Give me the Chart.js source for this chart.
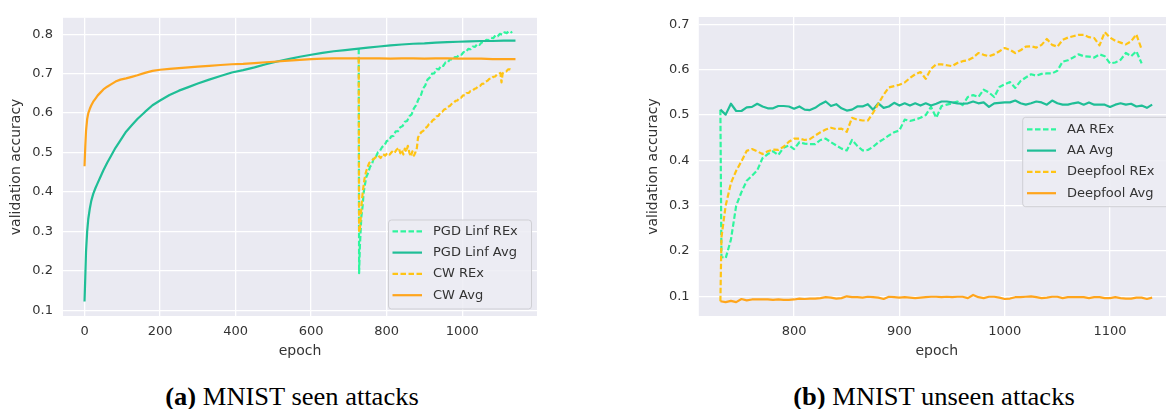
<!DOCTYPE html>
<html>
<head>
<meta charset="utf-8">
<script src="https://cdn.jsdelivr.net/npm/chart.js@4.4.1/dist/chart.umd.min.js"></script>
<style>
  html, body { margin:0; padding:0; width:1166px; height:409px; overflow:hidden; background:#fff; }
  canvas { position:absolute; top:0; }
  #cL { left:0; }
  #cR { left:620px; }
  .cap { position:absolute; top:384px; font-family:"Liberation Serif","Times New Roman",serif; font-size:25px; line-height:25px; color:#000; white-space:nowrap; transform:translateX(-50%) scaleX(1.06); }
</style>
</head>
<body>
<canvas id="cL" width="560" height="372"></canvas>
<canvas id="cR" width="560" height="372"></canvas>
<div class="cap" style="left:292px"><b>(a)</b> MNIST seen attacks</div>
<div class="cap" style="left:934px"><b>(b)</b> MNIST unseen attacks</div>
<script>
// ---------- Left chart data (MNIST seen attacks) ----------
const leftAvgEpochs = [0,2,4,7,10,14,18,23,29,35,42,50,60,70,82,95,110,125,140,160,180,200,225,250,275,300,330,360,390,420,450,480,510,540,570,600,630,660,690,720,750,780,810,840,870,900,930,960,990,1020,1050,1080,1110,1141];
const pgdAvg = [0.122,0.184,0.249,0.300,0.332,0.358,0.378,0.395,0.410,0.423,0.438,0.455,0.474,0.491,0.512,0.531,0.553,0.569,0.585,0.603,0.620,0.632,0.646,0.657,0.666,0.675,0.685,0.694,0.703,0.709,0.716,0.724,0.731,0.737,0.743,0.748,0.753,0.757,0.760,0.763,0.766,0.769,0.772,0.774,0.776,0.777,0.779,0.780,0.781,0.782,0.783,0.783,0.784,0.784];
const cwAvg = [0.465,0.515,0.555,0.585,0.600,0.611,0.620,0.629,0.637,0.645,0.652,0.660,0.667,0.673,0.680,0.685,0.688,0.692,0.696,0.702,0.707,0.710,0.712,0.714,0.716,0.718,0.720,0.722,0.724,0.725,0.727,0.729,0.731,0.733,0.735,0.737,0.738,0.739,0.739,0.739,0.739,0.739,0.738,0.739,0.739,0.738,0.739,0.739,0.738,0.738,0.738,0.737,0.737,0.737];
const pgdRexEpochs = [726,727,729,731,733,736,739,742,746,751,756,761,766,771,777,782,788,794,800,806,812,818,824,830,836,842,848,854,860,866,872,878,884,890,896,902,908,914,920,926,932,938,944,950,956,962,968,974,980,986,992,998,1004,1010,1016,1022,1028,1034,1040,1046,1052,1058,1064,1070,1076,1082,1088,1094,1100,1106,1112,1118,1124,1130,1132];
const pgdRex = [0.763,0.194,0.262,0.300,0.338,0.362,0.398,0.416,0.438,0.449,0.464,0.470,0.487,0.488,0.501,0.504,0.514,0.518,0.529,0.531,0.541,0.542,0.554,0.554,0.564,0.567,0.578,0.580,0.592,0.597,0.612,0.620,0.635,0.643,0.662,0.670,0.685,0.690,0.700,0.701,0.712,0.711,0.720,0.720,0.729,0.729,0.737,0.736,0.742,0.742,0.748,0.748,0.755,0.755,0.763,0.762,0.769,0.768,0.775,0.773,0.780,0.779,0.786,0.785,0.791,0.790,0.797,0.795,0.801,0.799,0.805,0.803,0.808,0.805,0.807];
const cwRexEpochs = [726,727,729,731,733,735,738,741,745,749,754,760,766,772,778,784,790,796,802,808,814,820,826,832,836,840,844,848,852,856,860,864,868,872,876,880,883,887,892,897,902,907,912,917,922,927,932,937,942,947,952,957,962,967,972,977,982,987,992,997,1002,1007,1012,1017,1022,1027,1032,1037,1042,1047,1052,1057,1062,1067,1072,1077,1082,1087,1092,1097,1101,1104,1107,1112,1117,1122,1127,1132];
const cwRex = [0.739,0.298,0.305,0.330,0.360,0.385,0.410,0.432,0.450,0.462,0.474,0.480,0.484,0.489,0.492,0.486,0.496,0.492,0.499,0.495,0.502,0.498,0.507,0.512,0.498,0.506,0.495,0.510,0.502,0.517,0.500,0.490,0.503,0.492,0.500,0.512,0.538,0.546,0.552,0.555,0.562,0.565,0.572,0.575,0.582,0.585,0.592,0.593,0.601,0.603,0.609,0.611,0.616,0.618,0.623,0.625,0.631,0.632,0.638,0.639,0.645,0.645,0.651,0.651,0.656,0.657,0.661,0.663,0.668,0.669,0.674,0.675,0.680,0.682,0.687,0.687,0.692,0.693,0.698,0.699,0.702,0.678,0.701,0.705,0.706,0.711,0.711,0.708];
const leftXTicks = [0,200,400,600,800,1000];
const leftYTicks = [0.1,0.2,0.3,0.4,0.5,0.6,0.7,0.8];
const leftLabels = ['PGD Linf REx','PGD Linf Avg','CW REx','CW Avg'];

// ---------- Right chart data (MNIST unseen attacks) ----------
const rightAvgEpochs = [730,735,740,745,750,755,760,765,770,775,780,785,790,795,800,805,810,815,820,825,830,835,840,845,850,855,860,865,870,875,880,885,890,895,900,905,910,915,920,925,930,935,940,945,950,955,960,965,970,975,980,985,990,995,1000,1005,1010,1015,1020,1025,1030,1035,1040,1045,1050,1055,1060,1065,1070,1075,1080,1085,1090,1095,1100,1105,1110,1115,1120,1125,1130,1135,1140];
const aaAvg = [0.512,0.501,0.525,0.509,0.509,0.517,0.518,0.525,0.519,0.515,0.515,0.520,0.520,0.519,0.514,0.519,0.512,0.511,0.516,0.524,0.530,0.520,0.524,0.515,0.510,0.512,0.519,0.519,0.524,0.512,0.526,0.516,0.519,0.527,0.521,0.526,0.521,0.526,0.521,0.526,0.521,0.525,0.530,0.530,0.528,0.526,0.525,0.526,0.530,0.526,0.528,0.518,0.526,0.527,0.528,0.528,0.532,0.526,0.523,0.526,0.530,0.528,0.523,0.532,0.526,0.523,0.523,0.526,0.528,0.523,0.528,0.523,0.523,0.523,0.518,0.523,0.526,0.523,0.525,0.519,0.521,0.516,0.523];
const dfAvg = [0.089,0.087,0.090,0.087,0.094,0.091,0.093,0.093,0.093,0.093,0.092,0.093,0.092,0.092,0.093,0.095,0.094,0.095,0.095,0.096,0.098,0.097,0.095,0.096,0.100,0.098,0.098,0.097,0.099,0.098,0.097,0.094,0.099,0.098,0.097,0.098,0.097,0.096,0.097,0.098,0.099,0.099,0.098,0.099,0.098,0.099,0.099,0.096,0.103,0.098,0.096,0.099,0.099,0.097,0.094,0.095,0.098,0.098,0.099,0.100,0.098,0.096,0.097,0.099,0.099,0.096,0.098,0.098,0.098,0.098,0.096,0.098,0.098,0.096,0.096,0.098,0.096,0.095,0.095,0.097,0.097,0.094,0.097];
const rightRexEpochs = [730,731,735,740,745,750,755,760,765,770,775,780,785,790,795,800,805,810,815,820,825,830,835,840,845,850,855,860,865,870,875,880,885,890,895,900,905,910,915,920,925,930,935,940,945,950,955,960,965,970,975,980,985,990,995,1000,1005,1010,1015,1020,1025,1030,1035,1040,1045,1050,1055,1060,1065,1070,1075,1080,1085,1090,1095,1100,1105,1110,1115,1120,1125,1130];
const aaRex = [0.512,0.187,0.184,0.225,0.300,0.330,0.355,0.366,0.378,0.405,0.414,0.420,0.412,0.428,0.433,0.425,0.440,0.437,0.436,0.436,0.445,0.448,0.440,0.433,0.426,0.422,0.445,0.432,0.422,0.423,0.430,0.440,0.447,0.455,0.462,0.466,0.490,0.487,0.490,0.494,0.500,0.518,0.494,0.520,0.523,0.526,0.530,0.522,0.540,0.544,0.540,0.556,0.550,0.540,0.562,0.568,0.573,0.560,0.575,0.583,0.590,0.587,0.591,0.592,0.592,0.598,0.618,0.621,0.627,0.634,0.630,0.629,0.627,0.634,0.630,0.614,0.616,0.622,0.637,0.630,0.641,0.614];
const dfRex = [0.089,0.230,0.300,0.350,0.377,0.398,0.421,0.425,0.420,0.414,0.420,0.424,0.423,0.430,0.441,0.448,0.448,0.445,0.447,0.455,0.462,0.468,0.472,0.469,0.470,0.463,0.494,0.490,0.488,0.488,0.505,0.525,0.545,0.561,0.564,0.567,0.572,0.582,0.590,0.595,0.580,0.602,0.612,0.612,0.610,0.608,0.615,0.619,0.621,0.627,0.637,0.633,0.630,0.634,0.641,0.648,0.644,0.637,0.643,0.651,0.652,0.649,0.655,0.668,0.655,0.651,0.666,0.671,0.674,0.677,0.677,0.672,0.670,0.654,0.683,0.671,0.664,0.660,0.656,0.663,0.678,0.645];
const rightXTicks = [800,900,1000,1100];
const rightYTicks = [0.1,0.2,0.3,0.4,0.5,0.6,0.7];
const rightLabels = ['AA REx','AA Avg','Deepfool REx','Deepfool Avg'];

// ---------- styling ----------
const C_REX_G = '#2ff59e', C_AVG_G = '#1fbe96', C_REX_Y = '#ffc414', C_AVG_O = '#ffa51c';
const TXT = '#333333';
Chart.defaults.font.family = "'DejaVu Sans', sans-serif";
Chart.defaults.color = TXT;

const zip = (xs, ys) => xs.map((x, i) => ({x: x, y: ys[i]}));

const bgPlugin = {
  id: 'bgPlugin',
  beforeDraw(chart) {
    const {ctx, chartArea: a} = chart;
    ctx.save();
    ctx.fillStyle = '#ffffff';
    ctx.fillRect(0, 0, chart.width, chart.height);
    ctx.fillStyle = '#eaeaf2';
    ctx.fillRect(a.left, a.top, a.right - a.left, a.bottom - a.top);
    ctx.restore();
  }
};

const boxLegend = {
  id: 'boxLegend',
  afterDatasetsDraw(chart, args, o) {
    const ctx = chart.ctx;
    ctx.save();
    ctx.beginPath();
    ctx.roundRect(o.x, o.y, o.w, o.h, 3);
    ctx.fillStyle = 'rgba(236,236,243,0.85)';
    ctx.fill();
    ctx.strokeStyle = '#cfcfd4';
    ctx.lineWidth = 1;
    ctx.stroke();
    chart.data.datasets.forEach((ds, i) => {
      const y = o.y0 + i * o.dy;
      ctx.beginPath();
      ctx.setLineDash(ds.borderDash || []);
      ctx.strokeStyle = ds.borderColor;
      ctx.lineWidth = ds.borderWidth;
      ctx.moveTo(o.lx0, y);
      ctx.lineTo(o.lx1, y);
      ctx.stroke();
      ctx.setLineDash([]);
      ctx.fillStyle = TXT;
      ctx.font = "13px 'DejaVu Sans', sans-serif";
      ctx.textBaseline = 'middle';
      ctx.textAlign = 'left';
      ctx.fillText(ds.label, o.tx, y);
    });
    ctx.restore();
  }
};

function makeChart(id, cfg) {
  const ds = [
    {label: cfg.labels[0], data: zip(cfg.rexGE, cfg.rexG), borderColor: C_REX_G, borderWidth: 2.2, borderDash: [5.5, 2.5], order: 4},
    {label: cfg.labels[1], data: zip(cfg.avgE, cfg.avgG), borderColor: C_AVG_G, borderWidth: 2.2, order: 3},
    {label: cfg.labels[2], data: zip(cfg.rexYE, cfg.rexY), borderColor: C_REX_Y, borderWidth: 2.2, borderDash: [5.5, 2.5], order: 2},
    {label: cfg.labels[3], data: zip(cfg.avgE, cfg.avgO), borderColor: C_AVG_O, borderWidth: 2.2, order: 1}
  ];
  ds.forEach(d => { d.pointRadius = 0; d.tension = 0; d.fill = false; d.borderJoinStyle = 'round'; });
  return new Chart(document.getElementById(id), {
    type: 'line',
    data: {datasets: ds},
    plugins: [bgPlugin, boxLegend],
    options: {
      responsive: false,
      animation: false,
      devicePixelRatio: 1,
      layout: {padding: {top: 8, right: cfg.padRight, left: 0, bottom: 0}},
      plugins: {
        legend: {display: false},
        tooltip: {enabled: false},
        boxLegend: cfg.legend
      },
      scales: {
        x: {
          type: 'linear', min: cfg.xMin, max: cfg.xMax,
          afterBuildTicks: s => { s.ticks = cfg.xTicks.map(v => ({value: v})); },
          afterFit: s => { s.height = 56; },
          grid: {color: '#ffffff', lineWidth: 1.3, drawTicks: false},
          border: {display: false},
          ticks: {padding: 8, font: {size: 13}, color: TXT, maxRotation: 0, callback: v => String(v)},
          title: {display: true, text: 'epoch', font: {size: 14}, color: TXT, padding: {top: 0, bottom: 12}}
        },
        y: {
          type: 'linear', min: cfg.yMin, max: cfg.yMax,
          afterBuildTicks: s => { s.ticks = cfg.yTicks.map(v => ({value: v})); },
          afterFit: s => { s.width = cfg.yWidth; },
          grid: {color: '#ffffff', lineWidth: 1.3, drawTicks: false},
          border: {display: false},
          ticks: {padding: cfg.yTickPad, font: {size: 13}, color: TXT, callback: v => Number(v).toFixed(1)},
          title: {display: true, text: 'validation accuracy', font: {size: 14}, color: TXT, padding: {top: cfg.yTitlePad, bottom: 0}}
        }
      }
    }
  });
}

makeChart('cL', {
  labels: leftLabels,
  rexGE: pgdRexEpochs, rexG: pgdRex,
  rexYE: cwRexEpochs, rexY: cwRex,
  avgE: leftAvgEpochs, avgG: pgdAvg, avgO: cwAvg,
  xMin: -57, xMax: 1198, yMin: 0.0853, yMax: 0.8418,
  xTicks: leftXTicks, yTicks: leftYTicks,
  padRight: 23, yWidth: 63, yTickPad: 10, yTitlePad: 7.5,
  legend: {x: 388.5, y: 220, w: 143, h: 89, y0: 231.3, dy: 21.3, lx0: 392.5, lx1: 422, tx: 433}
});

makeChart('cR', {
  labels: rightLabels,
  rexGE: rightRexEpochs, rexG: aaRex,
  rexYE: rightRexEpochs, rexY: dfRex,
  avgE: rightAvgEpochs, avgG: aaAvg, avgO: dfAvg,
  xMin: 709.5, xMax: 1161.5, yMin: 0.0565, yMax: 0.7165,
  xTicks: rightXTicks, yTicks: rightYTicks,
  padRight: 5.2, yWidth: 78.8, yTickPad: 9.2, yTitlePad: 24.5,
  legend: {x: 402.7, y: 117.3, w: 147, h: 89.4, y0: 129.3, dy: 21.3, lx0: 407, lx1: 436, tx: 447}
});
</script>
</body>
</html>
